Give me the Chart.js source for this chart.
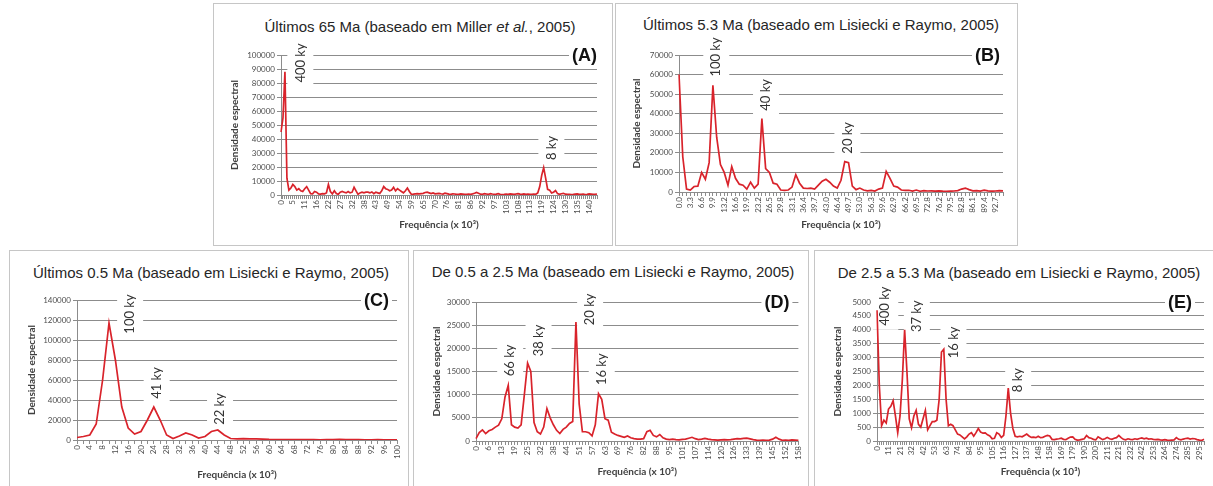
<!DOCTYPE html>
<html>
<head>
<meta charset="utf-8">
<script src="https://cdn.jsdelivr.net/npm/chart.js@4.4.1/dist/chart.umd.min.js"></script>
<style>
  body { margin: 0; width: 1213px; height: 486px; background: #fff; position: relative; overflow: hidden; }
  .frame { position: absolute; border: 1px solid #c6c6c6; box-sizing: border-box; }
  canvas { position: absolute; }
  .ttl { position: absolute; white-space: nowrap; font: 15px "Liberation Sans", Arial, sans-serif; color: #262626;
         line-height: 18px; transform: translateX(-50%); }
</style>
</head>
<body>
<div class="ttl" style="left:420px; top:18px">Últimos 65 Ma (baseado em Miller <i>et al.</i>, 2005)</div>
<div class="ttl" style="left:821px; top:16px">Últimos 5.3 Ma (baseado em Lisiecki e Raymo, 2005)</div>
<div class="ttl" style="left:211px; top:264px">Últimos 0.5 Ma (baseado em Lisiecki e Raymo, 2005)</div>
<div class="ttl" style="left:613px; top:263px">De 0.5 a 2.5 Ma (baseado em Lisiecki e Raymo, 2005)</div>
<div class="ttl" style="left:1019px; top:264px">De 2.5 a 5.3 Ma (baseado em Lisiecki e Raymo, 2005)</div>
<script>
// ---- (A) últimos 65 Ma: one point every 0.9, a label every 6 points
const ticksA = ['0','5','11','16','22','27','32','38','43','49','54','59','65','70','76','81','86','92','97','103','108','113','119','124','130','135','140'];
const densA = [
  45000, 55000, 88000, 12000, 3500, 5000, 7500, 6000, 3500, 4500,
  3000, 2500, 4500, 6000, 3500, 1000, 800, 2500, 2000, 800,
  600, 1000, 800, 1500, 7500, 2500, 800, 3000, 1000, 500,
  2000, 2500, 2000, 1500, 2500, 1500, 2000, 5500, 3000, 500,
  1500, 2000, 1500, 2000, 2000, 1500, 2200, 1000, 2000, 1500,
  1000, 3000, 6000, 4500, 4000, 3000, 3500, 5500, 3000, 4500,
  3500, 2500, 1500, 3000, 5000, 2500, 500, 600, 800, 1000,
  800, 1000, 1200, 1800, 2000, 1500, 1000, 1500, 800, 1000,
  1200, 900, 700, 1300, 1000, 600, 500, 800, 700, 400,
  500, 800, 600, 400, 500, 700, 500, 800, 1200, 1800,
  1200, 600, 500, 900, 700, 400, 1000, 700, 500, 600,
  900, 500, 300, 400, 600, 500, 800, 600, 400, 700,
  1000, 600, 400, 800, 500, 700, 400, 500, 600, 500,
  1500, 6000, 14000, 19500, 12000, 4000, 3500, 1500, 2000, 3200,
  1000, 500, 900, 1200, 600, 400, 500, 300, 400, 600,
  800, 500, 400, 600, 300, 500, 800, 600, 400, 500,
  700
];
const notesA = [{ text: '400 ky', at: 9.8, y: 94300 }, { text: '8 ky', at: 136.9, y: 33600 }];

// ---- (B) últimos 5.3 Ma: a label every 3 points
const ticksB = ['0.0','3.3','6.6','9.9','13.2','16.6','19.9','23.2','26.5','29.8','33.1','36.4','39.7','43.0','46.4','49.7','53.0','56.3','59.6','62.9','66.2','69.5','72.8','76.2','79.5','82.8','86.1','89.4','92.7'];
const densB = [
  60000, 18000, 1500, 1000, 2800, 3000, 10000, 6500, 15000, 54500,
  28000, 14000, 10000, 3500, 13000, 7000, 4000, 3500, 1500, 5000,
  2000, 4000, 37500, 12000, 10000, 4500, 4000, 1000, 800, 1000,
  2500, 8800, 4500, 2000, 1800, 2000, 1500, 3500, 5500, 6500,
  5000, 3000, 2000, 6000, 15500, 15000, 3000, 1200, 2000, 1000,
  600, 800, 500, 1500, 2000, 10500, 7000, 3000, 2500, 1000,
  800, 900, 500, 1000, 400, 700, 500, 600, 400, 600,
  400, 300, 400, 500, 700, 1500, 2000, 1200, 600, 700,
  500, 900, 600, 400, 500, 700, 600
];
const notesB = [{ text: '100 ky', at: 9.9, y: 69000 }, { text: '40 ky', at: 23.1, y: 49600 }, { text: '20 ky', at: 44.7, y: 27700 }];

// ---- (C) últimos 0.5 Ma: a label every 2 points
const ticksC = ['0','4','8','12','16','20','24','28','32','36','40','44','48','52','56','60','64','68','72','76','80','84','88','92','96','100'];
const densC = [
  2500, 3500, 5000, 16000, 60000, 117000, 80000, 33000, 12000, 6000,
  8500, 20000, 33000, 20000, 5000, 1500, 4000, 7000, 5000, 2000,
  3500, 8500, 10000, 5000, 1500, 1200, 1300, 1200, 1100, 900,
  600, 500, 500, 400, 400, 300, 300, 300, 250, 300,
  400, 600, 500, 400, 300, 250, 200, 300, 250, 200,
  150
];
const notesC = [{ text: '100 ky', at: 8.3, y: 126000 }, { text: '41 ky', at: 12.45, y: 57000 }, { text: '22 ky', at: 22.35, y: 31000 }];

// ---- (D) 0.5 a 2.5 Ma: a label every 4 points
const ticksD = ['0','6','13','19','25','32','38','44','51','57','63','69','76','82','88','95','101','107','114','120','126','133','139','145','152','158'];
const densD = [
  500, 1800, 2400, 1600, 2200, 2500, 3000, 3400, 4800, 9500,
  12000, 3500, 3000, 2800, 3500, 10000, 16800, 15000, 4000, 2000,
  1500, 3000, 7000, 5000, 3500, 2300, 1600, 2500, 3000, 3800,
  4200, 25700, 8000, 2000, 2000, 1800, 1100, 3500, 10200, 9000,
  4800, 4500, 1900, 1500, 1200, 1000, 800, 1100, 700, 500,
  400, 400, 500, 2000, 2300, 1200, 900, 1400, 700, 400,
  300, 400, 300, 250, 350, 400, 600, 800, 500, 300,
  400, 550, 400, 300, 250, 200, 250, 300, 250, 300,
  400, 500, 450, 550, 600, 450, 300, 200, 150, 200,
  150, 200, 400, 800, 400, 150, 200, 150, 250, 200,
  150
];
const notesD = [{ text: '66 ky', at: 10.6, y: 17400 }, { text: '38 ky', at: 19.4, y: 21700 }, { text: '20 ky', at: 35.4, y: 28400 }, { text: '16 ky', at: 39.0, y: 15500 }];

// ---- (E) 2.5 a 5.3 Ma: a label every 5 points
const ticksE = ['0','11','21','32','42','53','63','74','84','95','105','116','127','137','148','158','169','179','190','200','211','221','232','242','253','264','274','285','295'];
const densE = [
  4700, 2000, 550, 750, 650, 1150, 1250, 1450, 900, 300,
  900, 2200, 4000, 2500, 800, 480, 900, 1100, 600, 500,
  800, 1100, 400, 550, 700, 700, 750, 1500, 3200, 3300,
  1500, 550, 600, 550, 400, 250, 220, 150, 80, 150,
  250, 300, 170, 300, 450, 320, 280, 290, 220, 180,
  80, 100, 300, 250, 130, 200, 900, 1900, 1000, 450,
  170, 150, 170, 150, 200, 250, 180, 130, 140, 120,
  170, 120, 130, 170, 200, 180, 60, 50, 70, 80,
  100, 60, 50, 100, 140, 150, 60, 30, 40, 60,
  80, 200, 120, 100, 60, 40, 150, 100, 50, 80,
  130, 80, 60, 100, 120, 200, 120, 60, 40, 80,
  60, 50, 80, 60, 90, 110, 80, 100, 70, 80,
  60, 50, 60, 40, 30, 50, 30, 20, 30, 40,
  120, 60, 40, 70, 90, 100, 70, 90, 80, 50,
  30, 20, 60
];
const notesE = [{ text: '400 ky', at: 3.6, y: 4850 }, { text: '37 ky', at: 17.3, y: 4490 }, { text: '16 ky', at: 33.2, y: 3550 }, { text: '8 ky', at: 61.3, y: 2190 }];

const panels = [
  { values: densA, ticks: ticksA, every: 6, yMax: 100000, yStep: 10000, notes: notesA, corner: '(A)',
    box: [213, 3, 400, 243], plot: [281, 55, 597, 195], yTitleX: 235, xTitleY: 225, cornerOff: 0 },
  { values: densB, ticks: ticksB, every: 3, yMax: 70000, yStep: 10000, notes: notesB, corner: '(B)',
    box: [615, 3, 403, 243], plot: [679, 55, 1003, 192], yTitleX: 637, xTitleY: 225, cornerOff: 3 },
  { values: densC, ticks: ticksC, every: 2, yMax: 140000, yStep: 20000, notes: notesC, corner: '(C)',
    box: [9, 250, 400, 240], plot: [77, 300, 397, 440], yTitleX: 32, xTitleY: 475, cornerOff: 8 },
  { values: densD, ticks: ticksD, every: 4, yMax: 30000, yStep: 5000, notes: notesD, corner: '(D)',
    box: [413, 250, 396, 240], plot: [476, 302, 800, 441], yTitleX: 437, xTitleY: 472, cornerOff: 9 },
  { values: densE, ticks: ticksE, every: 5, yMax: 5000, yStep: 500, notes: notesE, corner: '(E)',
    box: [814, 250, 402, 240], plot: [877, 302, 1204, 441], yTitleX: 838, xTitleY: 472, cornerOff: 12 }
];

const FONT = 'Lato, "Liberation Sans", sans-serif';

// rotated peak labels + the (A)..(E) tag, white boxes over the grid
const notesPlugin = {
  id: 'notes',
  beforeDatasetsDraw(chart, args, opts) {
    const { ctx, chartArea } = chart;
    const x = chart.scales.x, y = chart.scales.y;
    ctx.save();
    ctx.font = '13px ' + FONT;
    ctx.textAlign = 'center';
    ctx.textBaseline = 'middle';
    opts.notes.forEach(n => {
      const px = x.getPixelForValue(n.at);
      const py = y.getPixelForValue(n.y);
      const w = ctx.measureText(n.text).width;
      ctx.save();
      ctx.translate(px, py);
      ctx.rotate(-Math.PI / 2);
      ctx.fillStyle = '#fff';
      ctx.fillRect(-w / 2 - 4, -13, w + 8, 26);
      ctx.fillStyle = '#333';
      ctx.fillText(n.text, 0, 0);
      ctx.restore();
    });
    ctx.font = 'bold 18px "Liberation Sans", Arial, sans-serif';
    const tw = ctx.measureText(opts.corner).width;
    const cy = y.getPixelForValue(y.max);
    const rx = chartArea.right - opts.cornerOff;
    ctx.fillStyle = '#fff';
    ctx.fillRect(rx - tw - 3, cy - 11, tw + 6, 22);
    ctx.fillStyle = '#111';
    ctx.textAlign = 'right';
    ctx.fillText(opts.corner, rx, cy + 1);
    ctx.restore();
  }
};

panels.forEach(p => {
  const [bx, by, bw, bh] = p.box;
  const [pl, pt, pr, pb] = p.plot;

  const frame = document.createElement('div');
  frame.className = 'frame';
  Object.assign(frame.style, { left: bx + 'px', top: by + 'px', width: bw + 'px', height: bh + 'px' });
  document.body.appendChild(frame);

  const cv = document.createElement('canvas');
  cv.width = bw; cv.height = bh;
  Object.assign(cv.style, { left: bx + 'px', top: by + 'px', width: bw + 'px', height: bh + 'px' });
  document.body.appendChild(cv);

  const axisLeft = p.yTitleX - 6;
  const yW = pl - axisLeft;
  const xH = p.xTitleY + 6 - pb;
  const labels = p.values.map((v, i) => (i % p.every === 0 ? p.ticks[i / p.every] : ''));

  new Chart(cv, {
    type: 'line',
    data: {
      labels: labels,
      datasets: [{
        data: p.values,
        borderColor: '#d9232b',
        borderWidth: 1.7,
        pointRadius: 0,
        tension: 0,
        fill: false
      }]
    },
    options: {
      responsive: false,
      animation: false,
      devicePixelRatio: 1,
      layout: {
        padding: { left: axisLeft - bx, top: pt - by, right: bx + bw - pr, bottom: by + bh - (p.xTitleY + 6) }
      },
      plugins: {
        legend: { display: false },
        tooltip: { enabled: false },
        notes: { notes: p.notes, corner: p.corner, cornerOff: p.cornerOff }
      },
      scales: {
        x: {
          type: 'category',
          offset: false,
          grid: { display: true, drawOnChartArea: false, drawTicks: true, tickLength: 4, color: '#8c8c8c' },
          border: { display: true, color: '#8c8c8c' },
          ticks: { autoSkip: false, minRotation: 90, maxRotation: 90, padding: 1, color: '#4d4d4d', font: { family: FONT, size: 8 } },
          title: { display: true, text: 'Frequência (x 10³)', color: '#404040', padding: 0, font: { family: FONT, size: 10, weight: 'bold' } },
          afterFit(s) { s.height = xH; }
        },
        y: {
          min: 0,
          max: p.yMax,
          grid: { color: '#8c8c8c', tickLength: 4 },
          border: { display: true, color: '#8c8c8c' },
          ticks: { stepSize: p.yStep, padding: 2, color: '#4d4d4d', font: { family: FONT, size: 8 }, callback: v => String(v) },
          title: { display: true, text: 'Densidade espectral', color: '#404040', padding: 0, font: { family: FONT, size: 10, weight: 'bold' } },
          afterFit(s) { s.width = yW; }
        }
      }
    },
    plugins: [notesPlugin]
  });
});
</script>
</body>
</html>
